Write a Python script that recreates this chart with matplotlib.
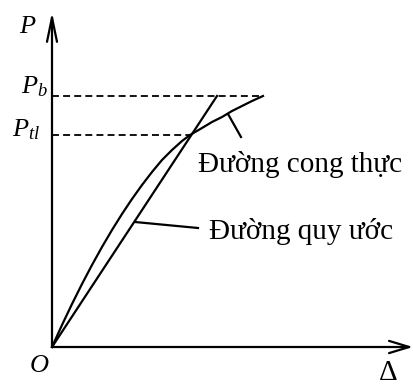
import matplotlib

matplotlib.use("Agg")
import matplotlib.pyplot as plt

plt.rcParams["font.family"] = ["Liberation Serif", "DejaVu Serif"]
plt.rcParams["mathtext.fontset"] = "custom"
plt.rcParams["mathtext.rm"] = "Liberation Serif"
plt.rcParams["mathtext.it"] = "Liberation Serif:italic"
plt.rcParams["lines.scale_dashes"] = False

curve_delta = [0, 10, 20, 30, 40, 50, 60, 70, 80, 90, 100, 110, 120, 130, 138,
               150, 160, 170, 180, 190, 200, 211]
curve_p = [0, 22, 43, 63, 82, 100, 117, 133, 148, 162, 175, 187, 197, 206, 212,
           219, 225, 230, 236, 241, 246, 251]

# conventional straight line
line_delta = [0, 165]
line_p = [0, 251]

p_b = 251
p_tl = 212
delta_tl = 138
delta_b_end = 211

axis_x_end = 361
axis_y_end = 335

fig = plt.figure(figsize=(4.14, 3.85), dpi=100)
ax = fig.add_axes([0, 0, 1, 1])
ax.set_xlim(-52, 362)
ax.set_ylim(-38, 347)
ax.axis("off")

lw = 1.6
arrow_kw = dict(mutation_scale=1, shrinkA=0, shrinkB=0, lw=lw, color="black")

# axes with open arrows
ax.annotate("", xy=(0, axis_y_end), xytext=(0, 0),
            arrowprops=dict(arrowstyle="->,head_length=17.5,head_width=3.6", **arrow_kw))
ax.annotate("", xy=(axis_x_end, 0), xytext=(0, 0),
            arrowprops=dict(arrowstyle="->,head_length=14.5,head_width=4.4", **arrow_kw))

# dashed level lines
ax.plot([0, delta_b_end], [p_b, p_b], color="black", lw=1.3, dashes=(5, 3))
ax.plot([0, delta_tl], [p_tl, p_tl], color="black", lw=1.3, dashes=(5, 3))

ax.plot(curve_delta, curve_p, color="black", lw=lw, solid_joinstyle="round")
ax.plot(line_delta, line_p, color="black", lw=lw)

# leader lines
ax.plot([176, 189], [233, 210], color="black", lw=lw)
ax.plot([83, 146], [125, 119], color="black", lw=lw)

ax.text(146, 175, "Đường cong thực", fontsize=21, va="baseline", ha="left")
ax.text(157, 108, "Đường quy ước", fontsize=21, va="baseline", ha="left")

ax.text(-33, 314, "$P$", fontsize=19, va="baseline", ha="left")
ax.text(-31, 254, "$P_b$", fontsize=19, va="baseline", ha="left")
ax.text(-40, 211, "$P_{tl}$", fontsize=19, va="baseline", ha="left")
ax.text(-23, -25, "$O$", fontsize=19, va="baseline", ha="left")
ax.text(327, -33, "Δ", fontsize=21, va="baseline", ha="left")

fig.savefig("out.png", dpi=100)
